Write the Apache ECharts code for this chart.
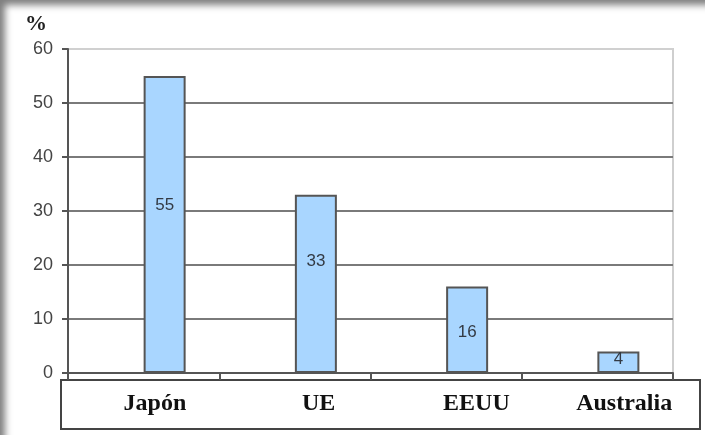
<!DOCTYPE html>
<html>
<head>
<meta charset="utf-8">
<script src="https://cdn.jsdelivr.net/npm/echarts@6/dist/echarts.min.js"></script>
<style>
  html, body { margin: 0; padding: 0; background: #fff; }
  #frame { position: relative; width: 705px; height: 435px; overflow: hidden; }
  #chart { width: 705px; height: 435px; }
  #shade { position: absolute; left: 0; top: 0; width: 705px; height: 435px; pointer-events: none;
           box-shadow: inset 8px 8px 7px -3px rgba(0,0,0,0.5); }
</style>
</head>
<body>
<div id="frame">
  <div id="chart"></div>
  <div id="shade"></div>
</div>
<script>
// Share by region, in percent
var categories = ['Japón', 'UE', 'EEUU', 'Australia'];
var shares = [55, 33, 16, 4];
var yTicks = { min: 0, max: 60, step: 10 };

// vertical nudge of each value label inside its bar (px)
var labelNudge = [-19, -23, 3, -3];
// horizontal nudge of each category name inside the table row (px)
var nameNudge = [14, 18, 16, 4];

var chart = echarts.init(document.getElementById('chart'), null, { renderer: 'canvas' });

var richNames = {};
nameNudge.forEach(function (d, i) {
  richNames['n' + i] = {
    fontFamily: '"Liberation Serif", "Times New Roman", serif',
    fontWeight: 'bold',
    fontSize: 24,
    color: '#111',
    padding: [0, 0, 0, 2 * d]
  };
});

var option = {
  animation: false,
  backgroundColor: '#fff',
  title: {
    text: '%',
    left: 20,
    top: 8,
    textStyle: {
      fontFamily: '"Liberation Serif", "Times New Roman", serif',
      fontWeight: 'bold',
      fontSize: 22,
      color: '#222'
    }
  },
  grid: [
    { left: 68, right: 32, top: 49, bottom: 62, show: true, borderColor: '#cfcfcf', borderWidth: 2, backgroundColor: 'transparent' },
    { left: 61, right: 5, top: 380, height: 49, show: true, borderColor: '#444', borderWidth: 2, backgroundColor: 'transparent' }
  ],
  xAxis: [
    {
      type: 'category',
      gridIndex: 0,
      data: categories,
      axisLine: { lineStyle: { color: '#555', width: 2 } },
      axisTick: { show: true, length: 7, lineStyle: { color: '#555', width: 2 } },
      axisLabel: { show: false }
    },
    {
      type: 'category',
      gridIndex: 1,
      data: categories,
      position: 'top',
      axisLine: { show: false },
      axisTick: { show: false },
      axisLabel: {
        show: true,
        inside: true,
        margin: 24,
        verticalAlign: 'middle',
        formatter: function (v, i) { return '{n' + i + '|' + v + '}'; },
        rich: richNames
      }
    }
  ],
  yAxis: [
    {
      type: 'value',
      gridIndex: 0,
      min: yTicks.min,
      max: yTicks.max,
      interval: yTicks.step,
      axisLine: { show: true, lineStyle: { color: '#555', width: 2 } },
      axisTick: { show: true, length: 6, lineStyle: { color: '#555', width: 2 } },
      axisLabel: {
        margin: 15,
        fontFamily: '"Liberation Sans", Arial, sans-serif',
        fontSize: 18,
        color: '#444'
      },
      splitLine: {
        show: true,
        lineStyle: { color: ['#555', '#7a7a7a', '#7a7a7a', '#7a7a7a', '#7a7a7a', '#7a7a7a', '#d0d0d0'], width: 2 }
      }
    },
    {
      type: 'value',
      gridIndex: 1,
      show: false
    }
  ],
  series: [
    {
      // empty slot so each bar sits to the right of its category centre
      type: 'bar',
      xAxisIndex: 0,
      yAxisIndex: 0,
      barWidth: 42,
      barGap: '0%',
      data: categories.map(function () { return '-'; })
    },
    {
      type: 'bar',
      xAxisIndex: 0,
      yAxisIndex: 0,
      barWidth: 42,
      barGap: '0%',
      itemStyle: { color: '#a9d6ff', borderColor: '#555', borderWidth: 2 },
      label: {
        show: true,
        position: 'inside',
        fontFamily: '"Liberation Sans", Arial, sans-serif',
        fontSize: 17,
        color: '#333a44'
      },
      data: shares.map(function (v, i) {
        return { value: v, label: { offset: [0, labelNudge[i]] } };
      })
    }
  ]
};

chart.setOption(option);
</script>
</body>
</html>
